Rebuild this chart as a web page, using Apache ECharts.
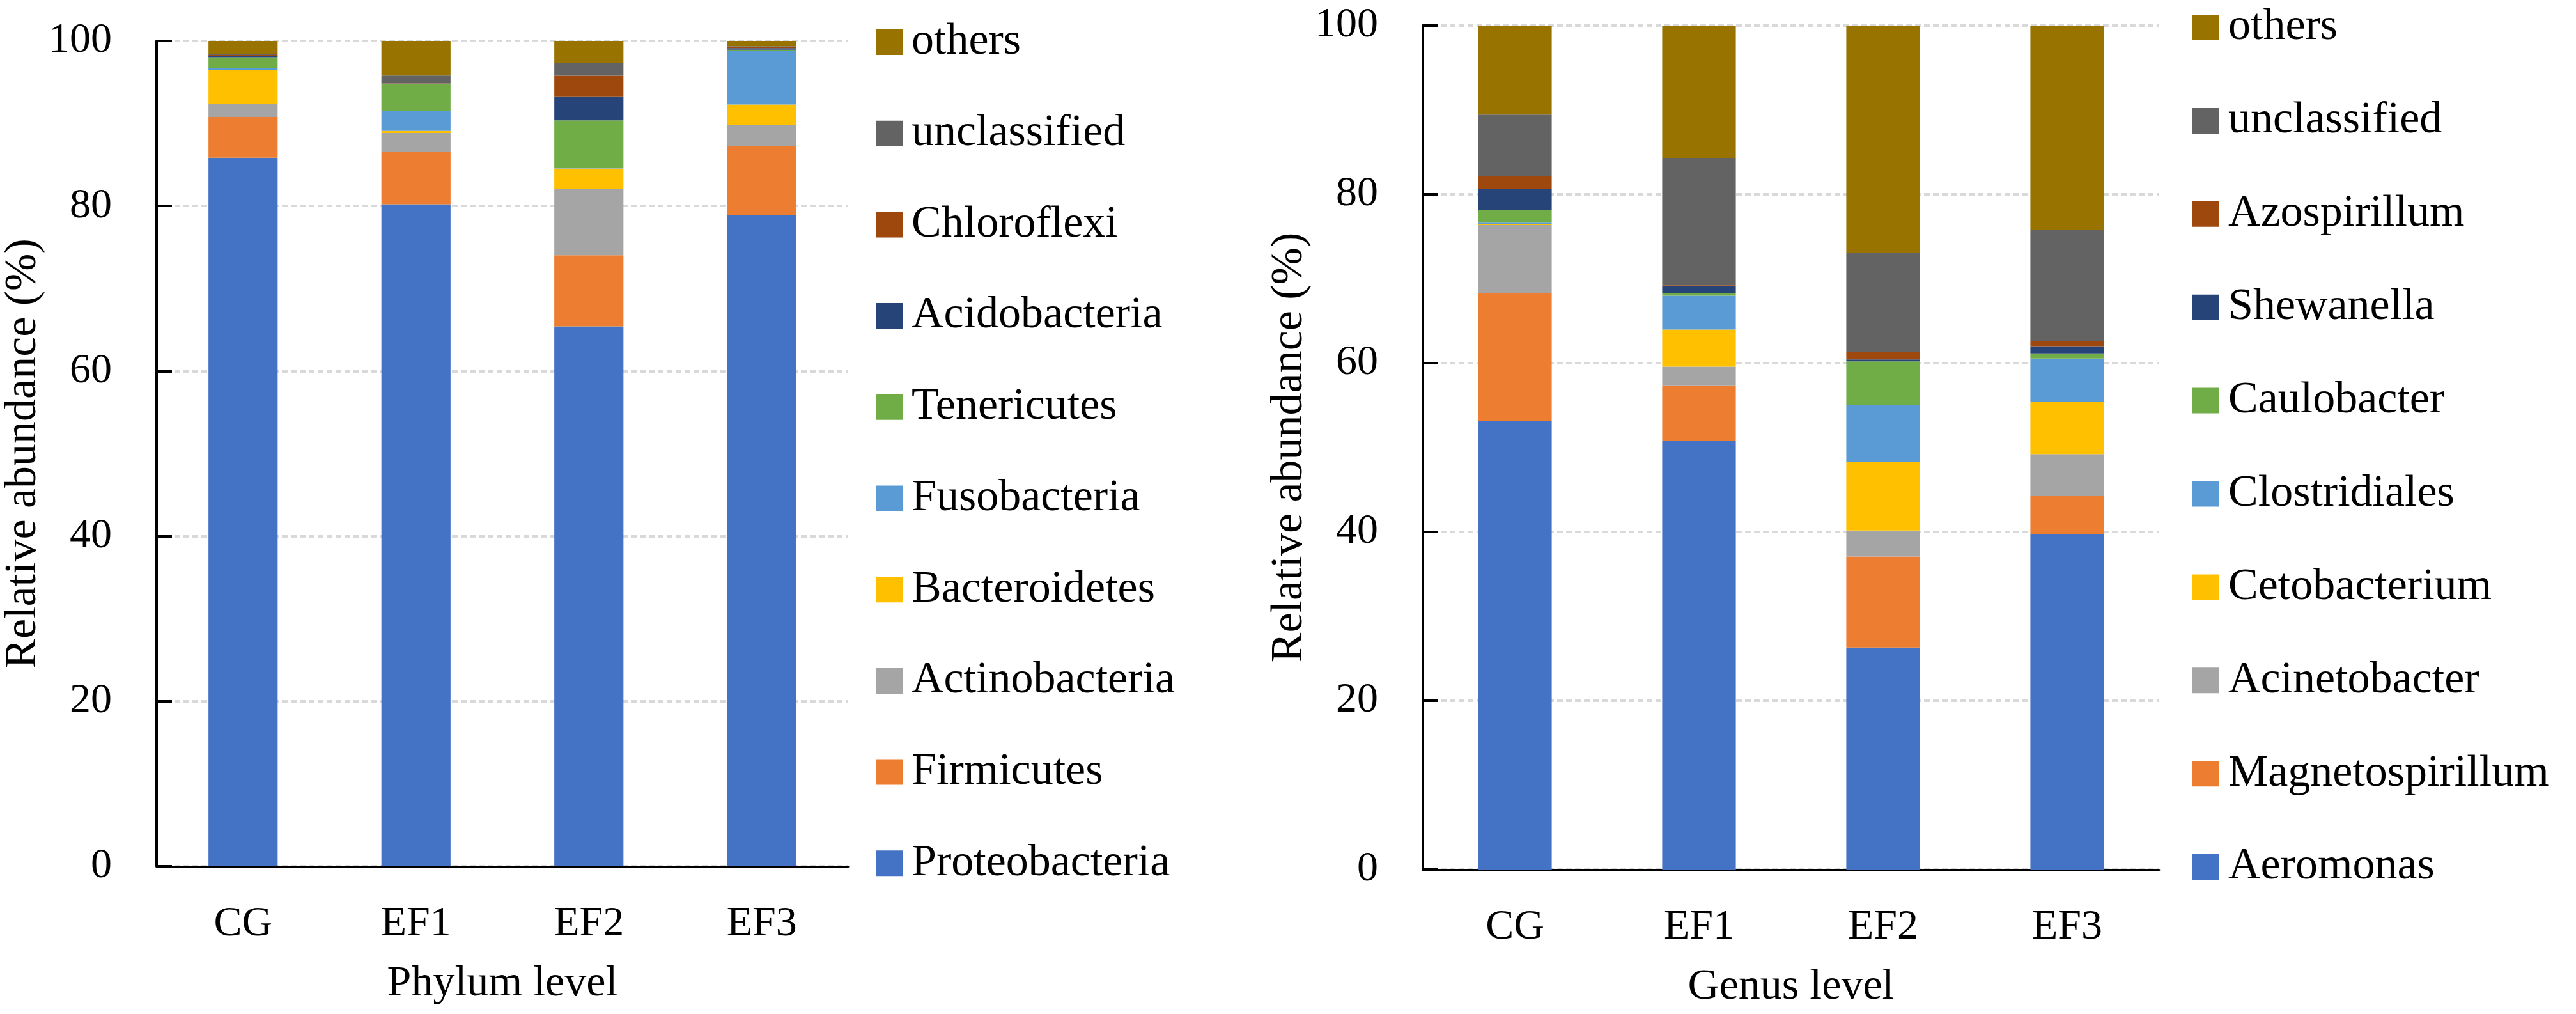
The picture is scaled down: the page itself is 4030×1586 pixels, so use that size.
<!DOCTYPE html>
<html>
<head>
<meta charset="utf-8">
<script src="https://cdn.jsdelivr.net/npm/echarts@6/dist/echarts.min.js"></script>
<style>
html,body{margin:0;padding:0;background:#fff;}
#c{width:4030px;height:1586px;}
</style>
</head>
<body>
<div id="c"></div>
<script>
// ---------- shared ----------
const categories = ['CG', 'EF1', 'EF2', 'EF3'];
const yTicks = [0, 20, 40, 60, 80, 100];
const colors = ['#4472C4', '#ED7D31', '#A5A5A5', '#FFC000', '#5B9BD5', '#70AD47', '#264478', '#9E480E', '#636363', '#997300'];

// ---------- Phylum level (bottom -> top) ----------
const phylumNames = ['Proteobacteria', 'Firmicutes', 'Actinobacteria', 'Bacteroidetes', 'Fusobacteria', 'Tenericutes', 'Acidobacteria', 'Chloroflexi', 'unclassified', 'others'];
const Proteobacteria = [85.85, 80.20, 65.42, 78.93];
const Firmicutes     = [4.94, 6.32, 8.61, 8.30];
const Actinobacteria = [1.58, 2.33, 7.99, 2.61];
const Bacteroidetes  = [4.07, 0.24, 2.53, 2.45];
const Fusobacteria   = [0.24, 2.41, 0.12, 6.48];
const Tenericutes    = [1.34, 3.24, 5.70, 0.16];
const Acidobacteria  = [0.16, 0.05, 2.92, 0.20];
const Chloroflexi    = [0.12, 0.05, 2.49, 0.16];
const phylumUnclassified = [0.16, 0.95, 1.58, 0.08];
const phylumOthers       = [1.54, 4.21, 2.64, 0.63];
const phylumData = [Proteobacteria, Firmicutes, Actinobacteria, Bacteroidetes, Fusobacteria, Tenericutes, Acidobacteria, Chloroflexi, phylumUnclassified, phylumOthers];

// ---------- Genus level (bottom -> top) ----------
const genusNames = ['Aeromonas', 'Magnetospirillum', 'Acinetobacter', 'Cetobacterium', 'Clostridiales', 'Caulobacter', 'Shewanella', 'Azospirillum', 'unclassified ', 'others '];
const Aeromonas        = [53.13, 50.81, 26.31, 39.70];
const Magnetospirillum = [15.13, 6.56, 10.77, 4.54];
const Acinetobacter    = [8.11, 2.21, 3.09, 4.99];
const Cetobacterium    = [0.12, 4.40, 8.11, 6.18];
const Clostridiales    = [0.15, 4.01, 6.76, 5.13];
const Caulobacter      = [1.55, 0.27, 5.17, 0.62];
const Shewanella       = [2.43, 0.93, 0.23, 0.85];
const Azospirillum     = [1.54, 0.08, 0.93, 0.62];
const genusUnclassified = [7.30, 15.05, 11.66, 13.20];
const genusOthers       = [10.54, 15.68, 26.95, 24.17];
const genusData = [Aeromonas, Magnetospirillum, Acinetobacter, Cetobacterium, Clostridiales, Caulobacter, Shewanella, Azospirillum, genusUnclassified, genusOthers];

const FONT = '"Liberation Serif", "Times New Roman", serif';

function xAxisCfg(gridIndex, name) {
  return {
    type: 'category', gridIndex: gridIndex, data: categories,
    name: name, nameLocation: 'middle', nameGap: 150,
    nameTextStyle: { fontFamily: FONT, fontSize: 68, color: '#000' },
    axisLine: { lineStyle: { color: '#000', width: 3 } },
    axisTick: { show: false },
    axisLabel: { fontFamily: FONT, fontSize: 66, color: '#000', margin: 58 }
  };
}
function yAxisCfg(gridIndex, gap) {
  return {
    type: 'value', gridIndex: gridIndex, min: 0, max: 100, interval: 20,
    name: 'Relative abundance (%)', nameLocation: 'middle', nameGap: gap,
    nameTextStyle: { fontFamily: FONT, fontSize: 70, color: '#000' },
    axisLine: { show: true, lineStyle: { color: '#000', width: 4 } },
    axisTick: { show: true, inside: true, length: 24, lineStyle: { color: '#000', width: 4 } },
    axisLabel: { fontFamily: FONT, fontSize: 66, color: '#000', margin: 70,
      formatter: function (v) { return yTicks.indexOf(v) >= 0 ? String(v) : ''; } },
    splitLine: { show: true, lineStyle: { color: '#d9d9d9', width: 4, type: [9, 5] } }
  };
}

const series = [];
phylumNames.forEach(function (n, i) {
  series.push({ name: n, type: 'bar', stack: 'phylum', xAxisIndex: 0, yAxisIndex: 0,
    barWidth: '40%', data: phylumData[i], itemStyle: { color: colors[i] } });
});
genusNames.forEach(function (n, i) {
  series.push({ name: n, type: 'bar', stack: 'genus', xAxisIndex: 1, yAxisIndex: 1,
    barWidth: '40%', data: genusData[i], itemStyle: { color: colors[i] } });
});

function legendCfg(names, left, top, gap) {
  return {
    orient: 'vertical', left: left, top: top, itemGap: gap,
    itemWidth: 42, itemHeight: 40, icon: 'rect', selectedMode: false,
    data: names.slice().reverse(),
    formatter: function (n) { return n.trim(); },
    textStyle: { fontFamily: FONT, fontSize: 70, color: '#000', padding: [0, 0, 0, 9] }
  };
}

const option = {
  backgroundColor: '#ffffff',
  animation: false,
  grid: [
    { left: 245, right: 2703, top: 64, bottom: 231, containLabel: false },
    { left: 2226, right: 652, top: 40, bottom: 226, containLabel: false }
  ],
  xAxis: [xAxisCfg(0, 'Phylum level'), xAxisCfg(1, 'Genus level')],
  yAxis: [yAxisCfg(0, 168), yAxisCfg(1, 172)],
  legend: [
    legendCfg(phylumNames, 1365, 26, 72.7),
    legendCfg(genusNames, 3425, 3, 75.9)
  ],
  series: series
};

const chart = echarts.init(document.getElementById('c'), null, { renderer: 'canvas' });
chart.setOption(option);
</script>
</body>
</html>
